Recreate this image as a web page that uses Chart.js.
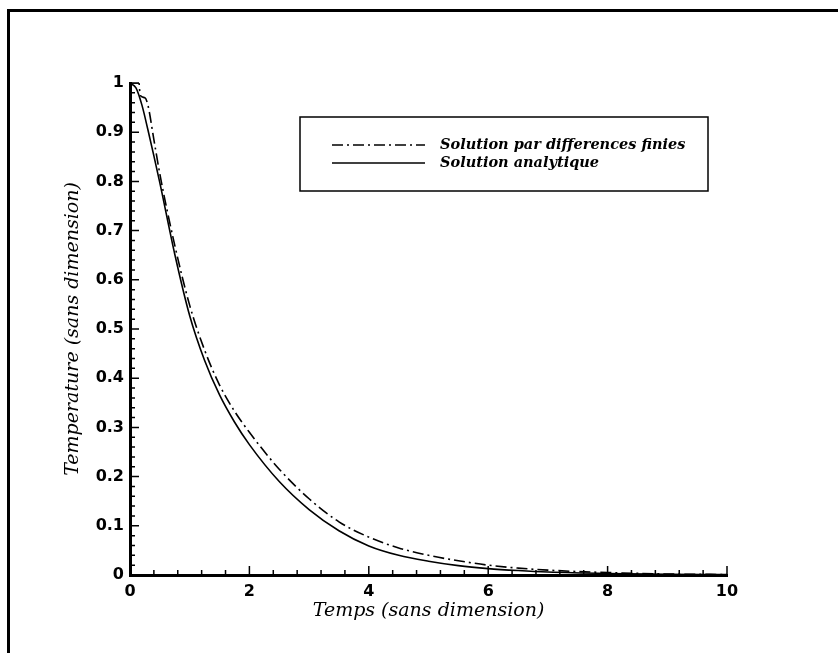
<!DOCTYPE html>
<html>
<head>
<meta charset="utf-8">
<script src="https://cdn.jsdelivr.net/npm/chart.js@4.4.1/dist/chart.umd.min.js"></script>
<style>
  html, body { margin: 0; padding: 0; background: #fff; }
  #wrap { width: 838px; height: 653px; }
</style>
</head>
<body>
<div id="wrap"><canvas id="chart" width="838" height="653"></canvas></div>
<script>
const tempsDF = [0, 0.15, 0.17, 0.25, 0.3, 0.4, 0.5, 0.75, 1, 1.25, 1.5, 1.75, 2, 2.5, 3, 3.5, 4, 4.5, 5, 5.5, 6, 6.5, 7, 7.5, 8, 9, 10];
const tempDF = [1, 1, 0.975, 0.97, 0.955, 0.885, 0.815, 0.67, 0.548, 0.457, 0.386, 0.333, 0.29, 0.215, 0.155, 0.108, 0.077, 0.055, 0.04, 0.029, 0.02, 0.014, 0.01, 0.007, 0.005, 0.002, 0.001];

const tempsAna = [0, 0.1, 0.2, 0.3, 0.4, 0.5, 0.75, 1, 1.25, 1.5, 1.75, 2, 2.5, 3, 3.5, 4, 4.5, 5, 5.5, 6, 6.5, 7, 8, 9, 10];
const tempAna = [1, 0.99, 0.955, 0.905, 0.852, 0.797, 0.652, 0.527, 0.436, 0.366, 0.311, 0.265, 0.19, 0.133, 0.09, 0.059, 0.04, 0.028, 0.019, 0.013, 0.009, 0.006, 0.003, 0.0015, 0.001];

const ticksX = [0, 2, 4, 6, 8, 10];
const labelsX = ['0', '2', '4', '6', '8', '10'];
const ticksY = [0, 0.1, 0.2, 0.3, 0.4, 0.5, 0.6, 0.7, 0.8, 0.9, 1];
const labelsY = ['0', '0.1', '0.2', '0.3', '0.4', '0.5', '0.6', '0.7', '0.8', '0.9', '1'];

const toPoints = (xs, ys) => xs.map((x, i) => ({ x: x, y: ys[i] }));

const tickFont = { family: 'DejaVu Sans', size: 16, weight: 'bold' };
const serif = '"DejaVu Serif"';

// cadre, graduations vers l'intérieur, titres d'axes et légende encadrée
const decor = {
  id: 'decor',
  beforeDraw(chart) {
    const c = chart.ctx;
    c.save();
    c.strokeStyle = '#000';
    c.lineWidth = 3;
    c.strokeRect(8.5, 10.5, 900, 700);
    c.restore();
  },
  afterDraw(chart) {
    const c = chart.ctx;
    const a = chart.chartArea;
    const sx = chart.scales.x, sy = chart.scales.y;
    c.save();
    c.strokeStyle = '#000';
    c.lineWidth = 1.5;
    c.beginPath();
    // x : 4 graduations mineures entre les majeures
    for (let i = 0; i < ticksX.length; i++) {
      const px = sx.getPixelForValue(ticksX[i]);
      c.moveTo(px, a.bottom); c.lineTo(px, a.bottom - 9);
      if (i < ticksX.length - 1) {
        const step = (ticksX[i + 1] - ticksX[i]) / 5;
        for (let k = 1; k < 5; k++) {
          const mx = sx.getPixelForValue(ticksX[i] + k * step);
          c.moveTo(mx, a.bottom); c.lineTo(mx, a.bottom - 5);
        }
      }
    }
    for (let i = 0; i < ticksY.length; i++) {
      const py = sy.getPixelForValue(ticksY[i]);
      c.moveTo(a.left, py); c.lineTo(a.left + 9, py);
      if (i < ticksY.length - 1) {
        const step = (ticksY[i + 1] - ticksY[i]) / 5;
        for (let k = 1; k < 5; k++) {
          const my = sy.getPixelForValue(ticksY[i] + k * step);
          c.moveTo(a.left, my); c.lineTo(a.left + 5, my);
        }
      }
    }
    c.stroke();

    // titres des axes
    c.fillStyle = '#000';
    c.font = 'italic 19px ' + serif;
    c.textAlign = 'center';
    c.textBaseline = 'alphabetic';
    c.fillText('Temps (sans dimension)', (a.left + a.right) / 2, a.bottom + 41);
    c.save();
    c.translate(a.left - 52, (a.top + a.bottom) / 2);
    c.rotate(-Math.PI / 2);
    c.fillText('Temperature (sans dimension)', 0, 0);
    c.restore();

    // légende
    const box = { x: 300, y: 117, w: 408, h: 74 };
    c.lineWidth = 1.5;
    c.strokeRect(box.x, box.y, box.w, box.h);
    c.font = 'italic bold 14.5px ' + serif;
    c.textAlign = 'left';
    c.textBaseline = 'middle';
    chart.data.datasets.forEach((ds, i) => {
      const ly = box.y + 28 + i * 18;
      c.save();
      c.lineWidth = ds.borderWidth;
      c.setLineDash(ds.borderDash || []);
      c.beginPath();
      c.moveTo(box.x + 32, ly);
      c.lineTo(box.x + 125, ly);
      c.stroke();
      c.restore();
      c.fillText(ds.label, box.x + 140, ly);
    });
    c.restore();
  }
};

new Chart(document.getElementById('chart'), {
  type: 'line',
  data: {
    datasets: [
      {
        label: 'Solution par differences finies',
        data: toPoints(tempsDF, tempDF),
        borderColor: '#000',
        borderWidth: 1.6,
        borderDash: [11, 4, 2, 4],
        pointRadius: 0,
        cubicInterpolationMode: 'monotone'
      },
      {
        label: 'Solution analytique',
        data: toPoints(tempsAna, tempAna),
        borderColor: '#000',
        borderWidth: 1.6,
        pointRadius: 0,
        cubicInterpolationMode: 'monotone'
      }
    ]
  },
  options: {
    responsive: false,
    animation: false,
    layout: { padding: { left: 0, right: 111, top: 83, bottom: 0 } },
    plugins: { legend: { display: false }, tooltip: { enabled: false } },
    scales: {
      x: {
        type: 'linear',
        min: 0,
        max: 10,
        afterBuildTicks: s => { s.ticks = ticksX.map(v => ({ value: v })); },
        afterFit: s => { s.height = 78; },
        ticks: {
          callback: (v, i) => labelsX[i],
          font: tickFont,
          color: '#000',
          padding: 7,
          maxRotation: 0
        },
        grid: { display: false, drawTicks: false },
        border: { display: true, color: '#000', width: 3 }
      },
      y: {
        min: 0,
        max: 1,
        afterBuildTicks: s => { s.ticks = ticksY.map(v => ({ value: v })); },
        afterFit: s => { s.width = 130; },
        ticks: {
          callback: (v, i) => labelsY[i],
          font: tickFont,
          color: '#000',
          padding: 6
        },
        grid: { display: false, drawTicks: false },
        border: { display: true, color: '#000', width: 3 }
      }
    }
  },
  plugins: [decor]
});
</script>
</body>
</html>
